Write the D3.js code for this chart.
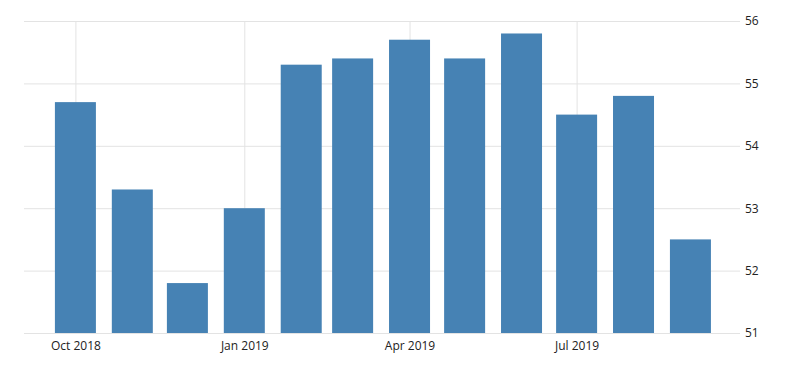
<!DOCTYPE html>
<html>
<head>
<meta charset="utf-8">
<script src="https://cdn.jsdelivr.net/npm/d3@7"></script>
<style>
  body { margin: 0; background: #fff; }
  svg { display: block; }
  .tick text { font-family: "Open Sans", sans-serif; font-size: 12px; fill: #222; }
</style>
</head>
<body>
<svg id="main"></svg>
<script>
// monthly values, bars centered on 1st of month
var months = ["2018-10", "2018-11", "2018-12", "2019-01", "2019-02", "2019-03",
              "2019-04", "2019-05", "2019-06", "2019-07", "2019-08", "2019-09"];
var values = [54.7, 53.3, 51.8, 53.0, 55.3, 55.4, 55.7, 55.4, 55.8, 54.5, 54.8, 52.5];
var yTicks = [51, 52, 53, 54, 55, 56];
var xTicks = ["2018-10", "2019-01", "2019-04", "2019-07"];

var W = 800, H = 373;
var mLeft = 24, mRight = 740, mTop = 21, mBottom = 333;
var parse = d3.timeParse("%Y-%m");

var svg = d3.select("#main").attr("width", W).attr("height", H);

var x = d3.scaleTime()
  .domain([new Date(2018, 8, 3), new Date(2019, 8, 28)])
  .range([mLeft, mRight]);

var y = d3.scaleLinear()
  .domain([51, 56])
  .range([mBottom, mTop]);

// horizontal grid + right axis labels
var yAxis = d3.axisRight(y)
  .tickValues(yTicks)
  .tickSize(-(mRight - mLeft))
  .tickPadding(5)
  .tickFormat(d3.format("d"));

var gy = svg.append("g")
  .attr("transform", "translate(" + mRight + ",0)")
  .call(yAxis);
gy.select(".domain").remove();
gy.selectAll("line").attr("stroke", "#e3e3e3");

// vertical grid + bottom labels
var xAxis = d3.axisBottom(x)
  .tickValues(xTicks.map(parse))
  .tickSize(-(mBottom - mTop))
  .tickPadding(8)
  .tickFormat(d3.timeFormat("%b %Y"));

var gx = svg.append("g")
  .attr("transform", "translate(0," + mBottom + ")")
  .call(xAxis);
gx.select(".domain").remove();
gx.selectAll("line").attr("stroke", "#e3e3e3");

var barW = 41;
svg.append("g").selectAll("rect")
  .data(months).enter()
  .append("rect")
  .attr("x", function(d) { return x(parse(d)) - barW / 2; })
  .attr("width", barW)
  .attr("y", function(d, i) { return y(values[i]); })
  .attr("height", function(d, i) { return y(51) - y(values[i]); })
  .attr("fill", "#4682b4");
</script>
</body>
</html>
